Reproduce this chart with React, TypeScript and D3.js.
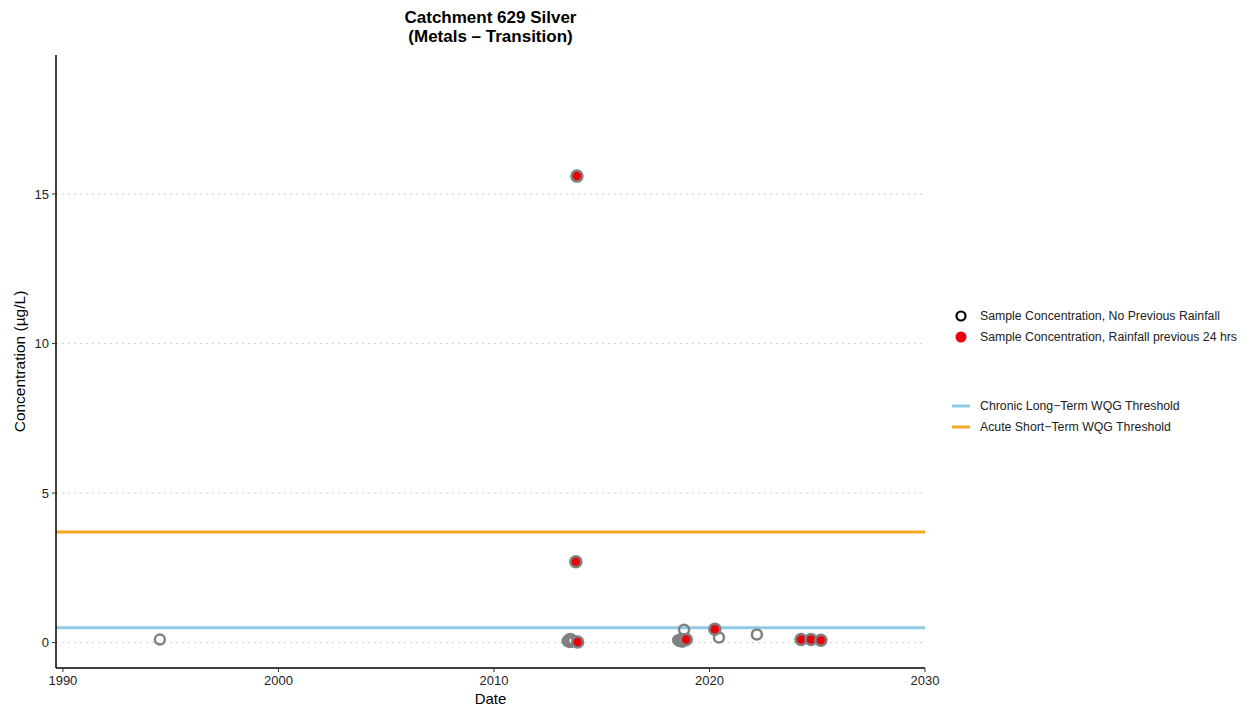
import React from "react";
import * as d3 from "d3";

// Sample observations: decimal year and concentration (µg/L)
const dryDates = [
  1994.5,
  2013.42, 2013.48, 2013.52, 2013.58, 2013.62, 2013.68, 2013.55,
  2018.55, 2018.62, 2018.68, 2018.74, 2018.8, 2018.7, 2018.82,
  2020.44, 2022.2,
];
const dryValues = [
  0.1,
  0.05, 0.1, 0.02, 0.08, 0.04, 0.06, 0.12,
  0.08, 0.05, 0.1, 0.03, 0.07, 0.12, 0.43,
  0.17, 0.27,
];
const wetDates = [2013.85, 2013.8, 2013.88, 2018.92, 2020.25, 2024.25, 2024.71, 2025.17];
const wetValues = [15.6, 2.7, 0.02, 0.1, 0.45, 0.1, 0.1, 0.08];

const chronicThreshold = 0.5;
const acuteThreshold = 3.7;

const xTicks = [1990, 2000, 2010, 2020, 2030];
const yTicks = [0, 5, 10, 15];

const W = 1251;
const H = 712;
const left = 56;
const right = 925;
const top = 55;
const bottom = 668;

const FONT = "'Liberation Sans', Arial, Helvetica, sans-serif";

export default function App() {
  const x = d3.scaleLinear().domain([1989.68, 2030]).range([left, right]);
  const y = d3.scaleLinear().domain([-0.85, 19.65]).range([bottom, top]);

  return (
    <svg width={W} height={H} style={{ position: "absolute", left: 0, top: 0, background: "#fff" }} fontFamily={FONT}>
      {/* title */}
      <text x={(left + right) / 2} y={23} textAnchor="middle" fontSize={17} fontWeight="bold" fill="#000">
        Catchment 629 Silver
      </text>
      <text x={(left + right) / 2} y={42} textAnchor="middle" fontSize={17} fontWeight="bold" fill="#000">
        (Metals – Transition)
      </text>

      {/* gridlines */}
      {yTicks.map((t) => (
        <line key={"g" + t} x1={left} x2={right} y1={y(t)} y2={y(t)} stroke="#cfcfcf" strokeWidth={1} strokeDasharray="2,4" />
      ))}

      {/* thresholds */}
      <line x1={left} x2={right} y1={y(chronicThreshold)} y2={y(chronicThreshold)} stroke="#8ecae6" strokeWidth={3} />
      <line x1={left} x2={right} y1={y(acuteThreshold)} y2={y(acuteThreshold)} stroke="#f5a623" strokeWidth={3} />

      {/* dry-weather samples */}
      {dryDates.map((d, i) => (
        <circle key={"d" + i} cx={x(d)} cy={y(dryValues[i])} r={5} fill="none" stroke="#808080" strokeWidth={2.5} />
      ))}
      {/* wet-weather samples */}
      {wetDates.map((d, i) => (
        <circle key={"w" + i} cx={x(d)} cy={y(wetValues[i])} r={5.5} fill="#e8000b" stroke="#808080" strokeWidth={2.5} />
      ))}

      {/* axes */}
      <line x1={left} x2={left} y1={top} y2={bottom} stroke="#000" strokeWidth={1.5} />
      <line x1={left} x2={right} y1={bottom} y2={bottom} stroke="#000" strokeWidth={1.5} />
      {yTicks.map((t) => (
        <g key={"yt" + t}>
          <line x1={left - 4} x2={left} y1={y(t)} y2={y(t)} stroke="#333" />
          <text x={left - 7} y={y(t)} dy="0.35em" textAnchor="end" fontSize={13} fill="#222">
            {t}
          </text>
        </g>
      ))}
      {xTicks.map((t) => (
        <g key={"xt" + t}>
          <line x1={x(t)} x2={x(t)} y1={bottom} y2={bottom + 4} stroke="#333" />
          <text x={x(t)} y={bottom + 17} textAnchor="middle" fontSize={13} fill="#222">
            {t}
          </text>
        </g>
      ))}
      <text x={(left + right) / 2} y={704} textAnchor="middle" fontSize={15} fill="#000">
        Date
      </text>
      <text transform={`translate(25,${(top + bottom) / 2}) rotate(-90)`} textAnchor="middle" fontSize={15.5} fill="#000">
        Concentration (µg/L)
      </text>

      {/* legend */}
      <circle cx={961} cy={316} r={4.5} fill="none" stroke="#000" strokeWidth={2.2} />
      <text x={980} y={316} dy="0.35em" fontSize={12.3} fill="#222">Sample Concentration, No Previous Rainfall</text>
      <circle cx={961} cy={337} r={5.5} fill="#e8000b" />
      <text x={980} y={337} dy="0.35em" fontSize={12.3} fill="#222">Sample Concentration, Rainfall previous 24 hrs</text>

      <line x1={952} x2={970} y1={406} y2={406} stroke="#8ecae6" strokeWidth={3} />
      <text x={980} y={406} dy="0.35em" fontSize={12.3} fill="#222">Chronic Long−Term WQG Threshold</text>
      <line x1={952} x2={970} y1={427} y2={427} stroke="#f5a623" strokeWidth={3} />
      <text x={980} y={427} dy="0.35em" fontSize={12.3} fill="#222">Acute Short−Term WQG Threshold</text>
    </svg>
  );
}
